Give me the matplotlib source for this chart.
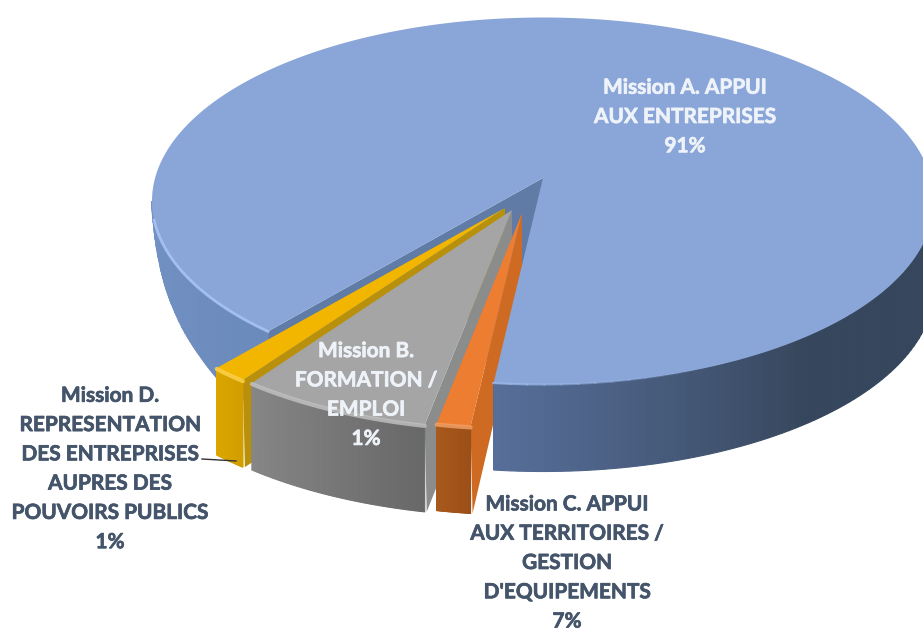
import numpy as np
import matplotlib
matplotlib.use('Agg')
import matplotlib.pyplot as plt
import matplotlib.patheffects as pe
from matplotlib.patches import Polygon
from matplotlib.colors import to_rgb

# Data (order around the pie)
labels = ['Mission A. APPUI\nAUX ENTREPRISES',
          "Mission C. APPUI\nAUX TERRITOIRES /\nGESTION\nD'EQUIPEMENTS",
          'Mission B.\nFORMATION /\nEMPLOI',
          'Mission D.\nREPRESENTATION\nDES ENTREPRISES\nAUPRES DES\nPOUVOIRS PUBLICS']
printed_pct = [91, 7, 1, 1]
# the wedges as drawn do not follow the printed percentages
wedge_pct = [89.6, 1.4, 8.0, 1.5]

# Pie geometry, in pixels
A, B = 391, 183.5
DEPTH = 87
START = 134.7
gaps = [0, 0.3, 0.3, 0.4]
apex_x = [543, 522, 512, 505]
apex_y = [178, 213, 210, 208]
drop = [23, 31.5, 36, 36]

face = ['#8aa6d8', '#ed7d31', '#a5a5a5', '#f2b600']
cut = ['#5f7ba6', '#cf6a22', '#8b8c8c', '#b8900c']
front_a = ['#566e99', '#a8591c', '#868686', '#dba600']
front_b = ['#36465c', '#9c4f17', '#686868', '#d29e00']
rim_col = ['#a9c6f4', '#f5a56b', '#c4c4c4', '#ffd34f']

fig = plt.figure(figsize=(9.23, 6.3), dpi=100)
ax = fig.add_axes([0, 0, 1, 1])
ax.set_xlim(0, 923)
ax.set_ylim(630, 0)
ax.axis('off')


def rim(i, t0, t1, n=120):
    t = np.radians(np.linspace(t0, t1, n))
    return apex_x[i] + A * np.cos(t), apex_y[i] + drop[i] + B * np.sin(t)


def blend(c0, c1, f):
    c0, c1 = np.array(to_rgb(c0)), np.array(to_rgb(c1))
    return tuple(c0 + (c1 - c0) * f)


def wall(i, t0, t1, c0, c1, depth=None, z=1, n=80, fade=1.0):
    # outer wall drawn as thin strips for the gradient
    edges = np.linspace(t0, t1, n + 1)
    for k in range(n):
        x, y = rim(i, edges[k], edges[k + 1], 4)
        if depth is None:
            d0, d1 = DEPTH, DEPTH
        else:
            d0, d1 = depth(edges[k]), depth(edges[k + 1])
        dd = np.linspace(d0, d1, 4)
        px = np.r_[x, x[::-1]]
        py = np.r_[y, (y + dd)[::-1]]
        col = blend(c0, c1, min(1, k / (n - 1) / fade))
        ax.add_patch(Polygon(np.c_[px, py], fc=col, ec=col, lw=0.8, zorder=z))


def left_depth(t):
    return np.interp(t, [134, 146, 157, 165, 175, 180], [85, 77, 57, 39, 8, 0])


# work out the angles of each wedge
t_start = []
t_end = []
pos = START
for i in range(4):
    pos = pos + gaps[i]
    t_start.append(pos)
    pos = pos + wedge_pct[i] * 3.6
    t_end.append(pos)
    if i == 0:
        pos = pos - 360
pos0 = t_start[0]
t_end0 = t_end[0]

# blue: back cut wall and left outer wall come first
x, y = rim(0, pos0, pos0, 1)
ax.add_patch(Polygon([[apex_x[0], apex_y[0]], [x[0], y[0]], [x[0], y[0] + DEPTH],
                      [apex_x[0], apex_y[0] + DEPTH]], fc=cut[0], ec='none', zorder=1))
wall(0, pos0, 180, '#6b8abc', '#7492c4', depth=left_depth, z=1)

# the three pulled-out wedges, furthest first
for i in [3, 2, 1]:
    x, y = rim(i, t_start[i], t_end[i])
    # cut wall on the right-hand side
    ax.add_patch(Polygon([[apex_x[i], apex_y[i]], [x[0], y[0]], [x[0] + 2, y[0] + DEPTH],
                          [apex_x[i], apex_y[i] + DEPTH]], fc=cut[i], ec='none', zorder=2 + 3 - i))
    wall(i, t_end[i], t_start[i], front_a[i], front_b[i], z=2 + 3 - i)
    ax.add_patch(Polygon(np.c_[np.r_[apex_x[i], x], np.r_[apex_y[i], y]],
                         fc=face[i], ec='none', zorder=2 + 3 - i))
    ax.plot(x, y + 1, color=rim_col[i], lw=3, alpha=0.8, zorder=2 + 3 - i, solid_capstyle='round')

# blue front wall and top face sit on top
wall(0, t_end0 - 360, t_end0 - 360 - 100, front_a[0], front_b[0], z=7, fade=0.5)
x, y = rim(0, pos0, t_end0, 500)
ax.add_patch(Polygon(np.c_[np.r_[apex_x[0], x], np.r_[apex_y[0], y]],
                     fc=face[0], ec='none', zorder=8))
x, y = rim(0, 174, pos0, 60)
ax.plot(x, y, color=rim_col[0], lw=2, alpha=0.85, zorder=9)
# highlight along the front edge, fading out to the right
for k in range(12):
    x, y = rim(0, 97.3 - k * 2.5, 97.3 - (k + 1) * 2.5, 8)
    ax.plot(x, y, color='#9dbae9', lw=1.5, alpha=0.8 * (1 - k / 12), zorder=9)

# leader line for mission D
ax.plot([202, 236], [459, 461], color='#333333', lw=1, zorder=10)

# labels
dark = '#44546a'
light = '#eef2f9'
font = dict(family='Lato', fontweight='bold', fontsize=15, ha='center', va='center',
            linespacing=1.58, zorder=11)
texts = [ax.text(685, 117, labels[0] + '\n%d%%' % printed_pct[0], color=light, **font),
         ax.text(567, 563, labels[1] + '\n%d%%' % printed_pct[1], color=dark, **font),
         ax.text(366, 395, labels[2] + '\n%d%%' % printed_pct[2], color=light, **font),
         ax.text(110, 469, labels[3] + '\n%d%%' % printed_pct[3], color=dark, **font)]
for t in texts:
    t.set_path_effects([pe.withStroke(linewidth=0.5, foreground=t.get_color())])

fig.savefig('out.png', dpi=100)
